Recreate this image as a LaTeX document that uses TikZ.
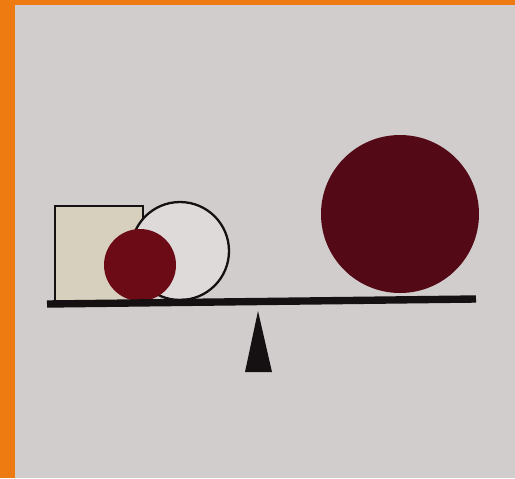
\documentclass[tikz,border=0pt]{standalone}
\definecolor{wallgrey}{HTML}{D1CDCD}
\definecolor{frameorange}{HTML}{EE7A12}
\definecolor{boxbeige}{HTML}{D8D0BF}
\definecolor{ringwhite}{HTML}{DEDADA}
\definecolor{ballred}{HTML}{6C0A16}
\definecolor{bigred}{HTML}{540A16}
\definecolor{inkblack}{HTML}{151012}
\usepackage{tikz}
\tikzstyle{outline} = [draw=inkblack, line width=1.3pt]
\tikzstyle{solidball} = [fill=ballred]
\tikzstyle{beam} = [draw=inkblack, line width=4.2pt, line cap=butt]

\begin{document}
\begin{tikzpicture}[x=0.02cm, y=-0.02cm]
    % Background and frame
    \useasboundingbox (0,0) rectangle (515,478);
    \fill[wallgrey] (0,0) rectangle (515,478);
    \fill[frameorange] (0,0) rectangle (15,478);
    \fill[frameorange] (0,0) rectangle (515,5);

    % Left pan: box, ring, small ball
    \coordinate (ringc) at (180,251);
    \coordinate (ballc) at (140,265);
    \filldraw[outline, fill=boxbeige] (55,303) rectangle (143,206);
    \filldraw[outline, fill=ringwhite] (ringc) circle (49);
    \fill[solidball] (ballc) circle (36);

    % Right pan: big ball
    \coordinate (bigc) at (400,214);
    \fill[bigred] (bigc) circle (79);

    % Beam
    \coordinate (beamleft) at (47,304);
    \coordinate (beamright) at (476,299);
    \draw[beam] (beamleft) -- (beamright);

    % Fulcrum
    \coordinate (apex) at (258,311);
    \coordinate (baseleft) at (245,372);
    \coordinate (baseright) at (272,372);
    \fill[inkblack] (apex) -- (baseright) -- (baseleft) -- cycle;
\end{tikzpicture}
\end{document}
